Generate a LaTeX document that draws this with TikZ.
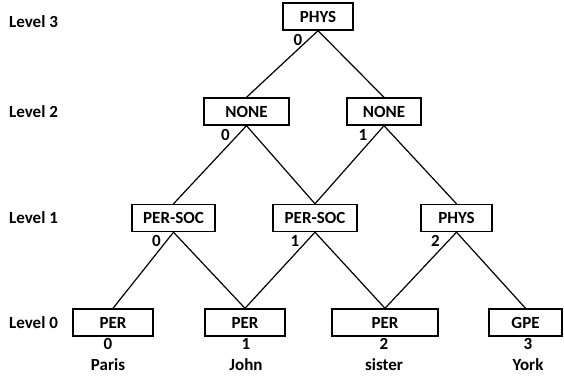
\documentclass[tikz,border=0pt]{standalone}
\usepackage{fontspec}
\setmainfont{Carlito}
\usetikzlibrary{calc}
\tikzset{
  box/.style={draw, line width=1.4pt, minimum height=27pt, inner sep=0pt, font=\fontsize{17}{19}\selectfont\bfseries},
  lbl/.style={inner sep=0pt, font=\fontsize{17}{19}\selectfont\bfseries},
  conn/.style={line width=1.2pt},
}
\begin{document}
\begin{tikzpicture}[x=1pt,y=-1pt]
\useasboundingbox (0,0) rectangle (564,375);
% level labels
\node[lbl, anchor=west] (lv3) at (9,22) {Level 3};
\node[lbl, anchor=west] (lv2) at (9,112) {Level 2};
\node[lbl, anchor=west] (lv1) at (9,218) {Level 1};
\node[lbl, anchor=west] (lv0) at (9,323) {Level 0};
% nodes
\node[box, minimum width=70pt] (p3) at (318,16.5) {PHYS};
\node[box, minimum width=85pt] (n0) at (246.5,111.5) {NONE};
\node[box, minimum width=74pt] (n1) at (384,111.5) {NONE};
\node[box, minimum width=83pt] (s0) at (173.5,218) {PER-SOC};
\node[box, minimum width=84pt] (s1) at (315,218) {PER-SOC};
\node[box, minimum width=71pt] (h2) at (456.5,218) {PHYS};
\node[box, minimum width=80pt] (e0) at (113,322.5) {PER};
\node[box, minimum width=80pt] (e1) at (245,322.5) {PER};
\node[box, minimum width=106pt] (e2) at (385,322.5) {PER};
\node[box, minimum width=73pt] (e3) at (525.5,322.5) {GPE};
% connectors
\draw[conn] (p3.south) -- (n0.north);
\draw[conn] (p3.south) -- (n1.north);
\draw[conn] (n0.south) -- (s0.north);
\draw[conn] (n0.south) -- (s1.north);
\draw[conn] (n1.south) -- (s1.north);
\draw[conn] (n1.south) -- (h2.north);
\draw[conn] (s0.south) -- (e0.north);
\draw[conn] (s0.south) -- (e1.north);
\draw[conn] (s1.south) -- (e1.north);
\draw[conn] (s1.south) -- (e2.north);
\draw[conn] (h2.south) -- (e2.north);
\draw[conn] (h2.south) -- (e3.north);
% index labels
\node[lbl] (i3) at ($(p3.south)+(-20,9)$) {0};
\node[lbl] (i20) at ($(n0.south)+(-21,9)$) {0};
\node[lbl] (i21) at ($(n1.south)+(-21,9)$) {1};
\node[lbl] (i10) at ($(s0.south)+(-17,9)$) {0};
\node[lbl] (i11) at ($(s1.south)+(-20,9)$) {1};
\node[lbl] (i12) at ($(h2.south)+(-21,9)$) {2};
% word indices and words
\node[lbl] (w0n) at (108,344) {0};
\node[lbl] (w1n) at (246,344) {1};
\node[lbl] (w2n) at (384,344) {2};
\node[lbl] (w3n) at (528,344) {3};
\node[lbl] (w0) at (108,365) {Paris};
\node[lbl] (w1) at (246,365) {John};
\node[lbl] (w2) at (384,365) {sister};
\node[lbl] (w3) at (528,365) {York};
\end{tikzpicture}
\end{document}
